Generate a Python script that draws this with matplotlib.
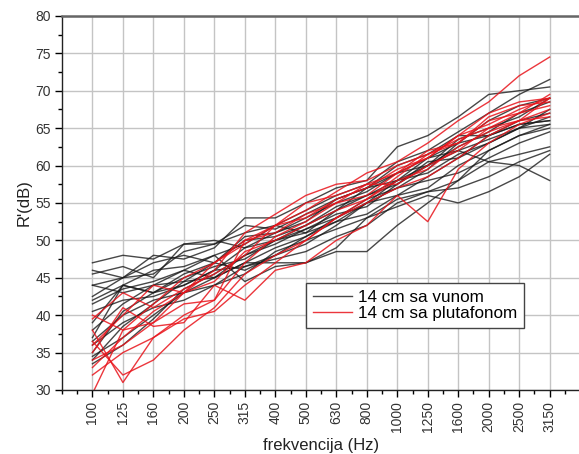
import matplotlib
matplotlib.use("Agg")
import matplotlib.pyplot as plt
from matplotlib.ticker import MultipleLocator

plt.rcParams['font.family'] = ['Liberation Sans', 'DejaVu Sans']

freqs = ['100', '125', '160', '200', '250', '315', '400', '500', '630',
         '800', '1000', '1250', '1600', '2000', '2500', '3150']

# 14 cm sa vunom
black_series = [
    [47, 48, 47.5, 49.5, 49.5, 51, 52, 54, 56, 57.5, 60.5, 62, 64.5, 67, 69.5, 71.5],
    [46, 45, 48, 47.5, 49, 53, 53, 55, 57, 58, 62.5, 64, 66.5, 69.5, 70, 70.5],
    [45.5, 46.5, 45, 49.5, 50, 49, 51, 53, 55, 56.5, 59, 61, 63, 66, 68, 69],
    [44, 43, 44, 46, 48, 49.5, 52, 51, 54, 57, 58, 60, 62.5, 64.5, 67, 68.5],
    [44, 45, 47, 48, 47, 46, 48, 50.5, 53, 55, 57, 59.5, 63, 64, 66, 67],
    [42, 44, 43, 45, 46.5, 47.5, 50, 51, 52.5, 55, 58, 59, 61.5, 63, 65, 66.5],
    [41.5, 43.5, 44.5, 46, 45, 48, 49.5, 51.5, 53.5, 54.5, 57.5, 60.5, 61, 64, 65.5, 66],
    [40.5, 42, 42.5, 44, 46, 46.5, 48, 49.5, 52, 55, 56, 57, 60, 62, 64, 65.5],
    [38, 41.5, 44, 44.5, 47, 50, 50.5, 52, 54.5, 56, 58, 61, 62, 60.5, 60, 58],
    [37, 44, 43, 45.5, 47, 50.5, 51, 52.5, 55.5, 57, 59, 60, 63.5, 65, 66.5, 69],
    [36.5, 40, 42, 43, 45, 47, 47, 47, 48.5, 48.5, 52, 55, 58, 62, 64, 65],
    [36, 39, 41, 42, 44, 45.5, 48.5, 50, 51.5, 53, 55.5, 56.5, 58, 60.5, 61.5, 62.5],
    [35, 40.5, 43, 44, 46, 49, 50, 51.5, 53, 55.5, 57, 58, 59, 61, 63, 64.5],
    [34.5, 37, 40, 43, 44, 46.5, 47.5, 48.5, 50.5, 52, 55, 56.5, 57, 58.5, 60.5, 62],
    [34, 38.5, 41.5, 44.5, 45, 47, 49, 50.5, 52.5, 53.5, 56, 58.5, 61, 63, 65, 65.5],
    [33.5, 36, 39.5, 43.5, 45.5, 48, 50, 52, 54, 56, 57.5, 60, 62, 63.5, 65, 67.5],
    [42.5, 45, 45.5, 48.5, 49.5, 52, 51.5, 53.5, 55.5, 57, 60, 61.5, 64, 64, 65.5, 66],
    [39, 44, 46, 46.5, 48, 44.5, 46.5, 47, 49, 53, 54.5, 56, 55, 56.5, 58.5, 61.5],
]

# 14 cm sa plutafonom
red_series = [
    [40, 38, 39, 43, 47, 50, 52, 54, 56.5, 59, 60.5, 63, 66, 68.5, 72, 74.5],
    [39.5, 43, 41, 43.5, 45.5, 48, 52, 55, 56, 57.5, 59, 61, 64, 67, 68.5, 69],
    [38, 31, 37, 40, 42, 47, 50.5, 52.5, 55, 56, 59, 62, 63, 66, 67, 69.5],
    [36.5, 32, 34, 38, 41, 45.5, 48, 50, 53, 55.5, 58.5, 61.5, 63, 66.5, 68, 68.5],
    [35, 41, 38.5, 39, 44, 42, 46, 47, 50, 52, 56, 52.5, 59.5, 63, 65.5, 67],
    [34, 36, 39, 41.5, 42, 50, 51, 53.5, 55, 57.5, 57.5, 60, 62, 65, 66, 67.5],
    [33, 37, 40.5, 43, 46, 51, 53.5, 56, 57.5, 58, 60, 61.5, 63.5, 65, 67, 68],
    [32, 35, 37, 39.5, 40.5, 44, 47, 50, 53, 55, 57, 58.5, 61, 64, 66, 69],
    [29.5, 38, 41.5, 45, 47, 49.5, 52, 53, 55.5, 57, 59.5, 61, 64, 65.5, 67.5, 69],
    [36, 40, 44, 43, 44.5, 48.5, 50, 52, 54, 55.5, 58, 59.5, 62.5, 64.5, 66, 66.5],
]

fig = plt.figure(figsize=(5.79, 4.54), dpi=100)
ax = fig.add_axes([0.107, 0.141, 0.895, 0.824])

x = range(len(freqs))
for i, s in enumerate(black_series):
    ax.plot(x, s, color='#1a1a1a', lw=1.0, alpha=0.8,
            label='14 cm sa vunom' if i == 0 else None)
for i, s in enumerate(red_series):
    ax.plot(x, s, color='#e8141b', lw=1.0, alpha=0.85,
            label='14 cm sa plutafonom' if i == 0 else None)

ax.set_xlim(-1, 16)
ax.set_ylim(30, 80)
ax.set_xticks(list(x))
ax.set_xticklabels(freqs, rotation=90, fontsize=10, color='#333333')
ax.xaxis.set_minor_locator(MultipleLocator(0.5))
ax.yaxis.set_major_locator(MultipleLocator(5))
ax.yaxis.set_minor_locator(MultipleLocator(2.5))
ax.tick_params(axis='y', labelsize=10, labelcolor='#333333')
ax.tick_params(which='major', direction='out', length=5, width=1, pad=3)
ax.tick_params(which='minor', direction='out', length=3, width=1)

ax.grid(True, which='major', color='#c4c4c4', lw=1.0)
ax.set_axisbelow(True)

ax.spines['top'].set_color('#666666')
ax.spines['top'].set_linewidth(1.8)
ax.spines['right'].set_visible(False)
for side in ['left', 'bottom']:
    ax.spines[side].set_color('#222222')
    ax.spines[side].set_linewidth(1.0)

ax.set_xlabel('frekvencija (Hz)', fontsize=12, labelpad=4, color='#222222')
ax.set_ylabel("R'(dB)", fontsize=12, labelpad=3, color='#222222')

leg = ax.legend(loc='lower left', bbox_to_anchor=(0.471, 0.166), fontsize=12.3,
                fancybox=False, framealpha=1, edgecolor='#444444',
                handlelength=2.3, handletextpad=0.35, borderpad=0.4,
                labelspacing=0.05, borderaxespad=0)
leg.get_frame().set_linewidth(1.0)

fig.savefig('out.png', dpi=100)
